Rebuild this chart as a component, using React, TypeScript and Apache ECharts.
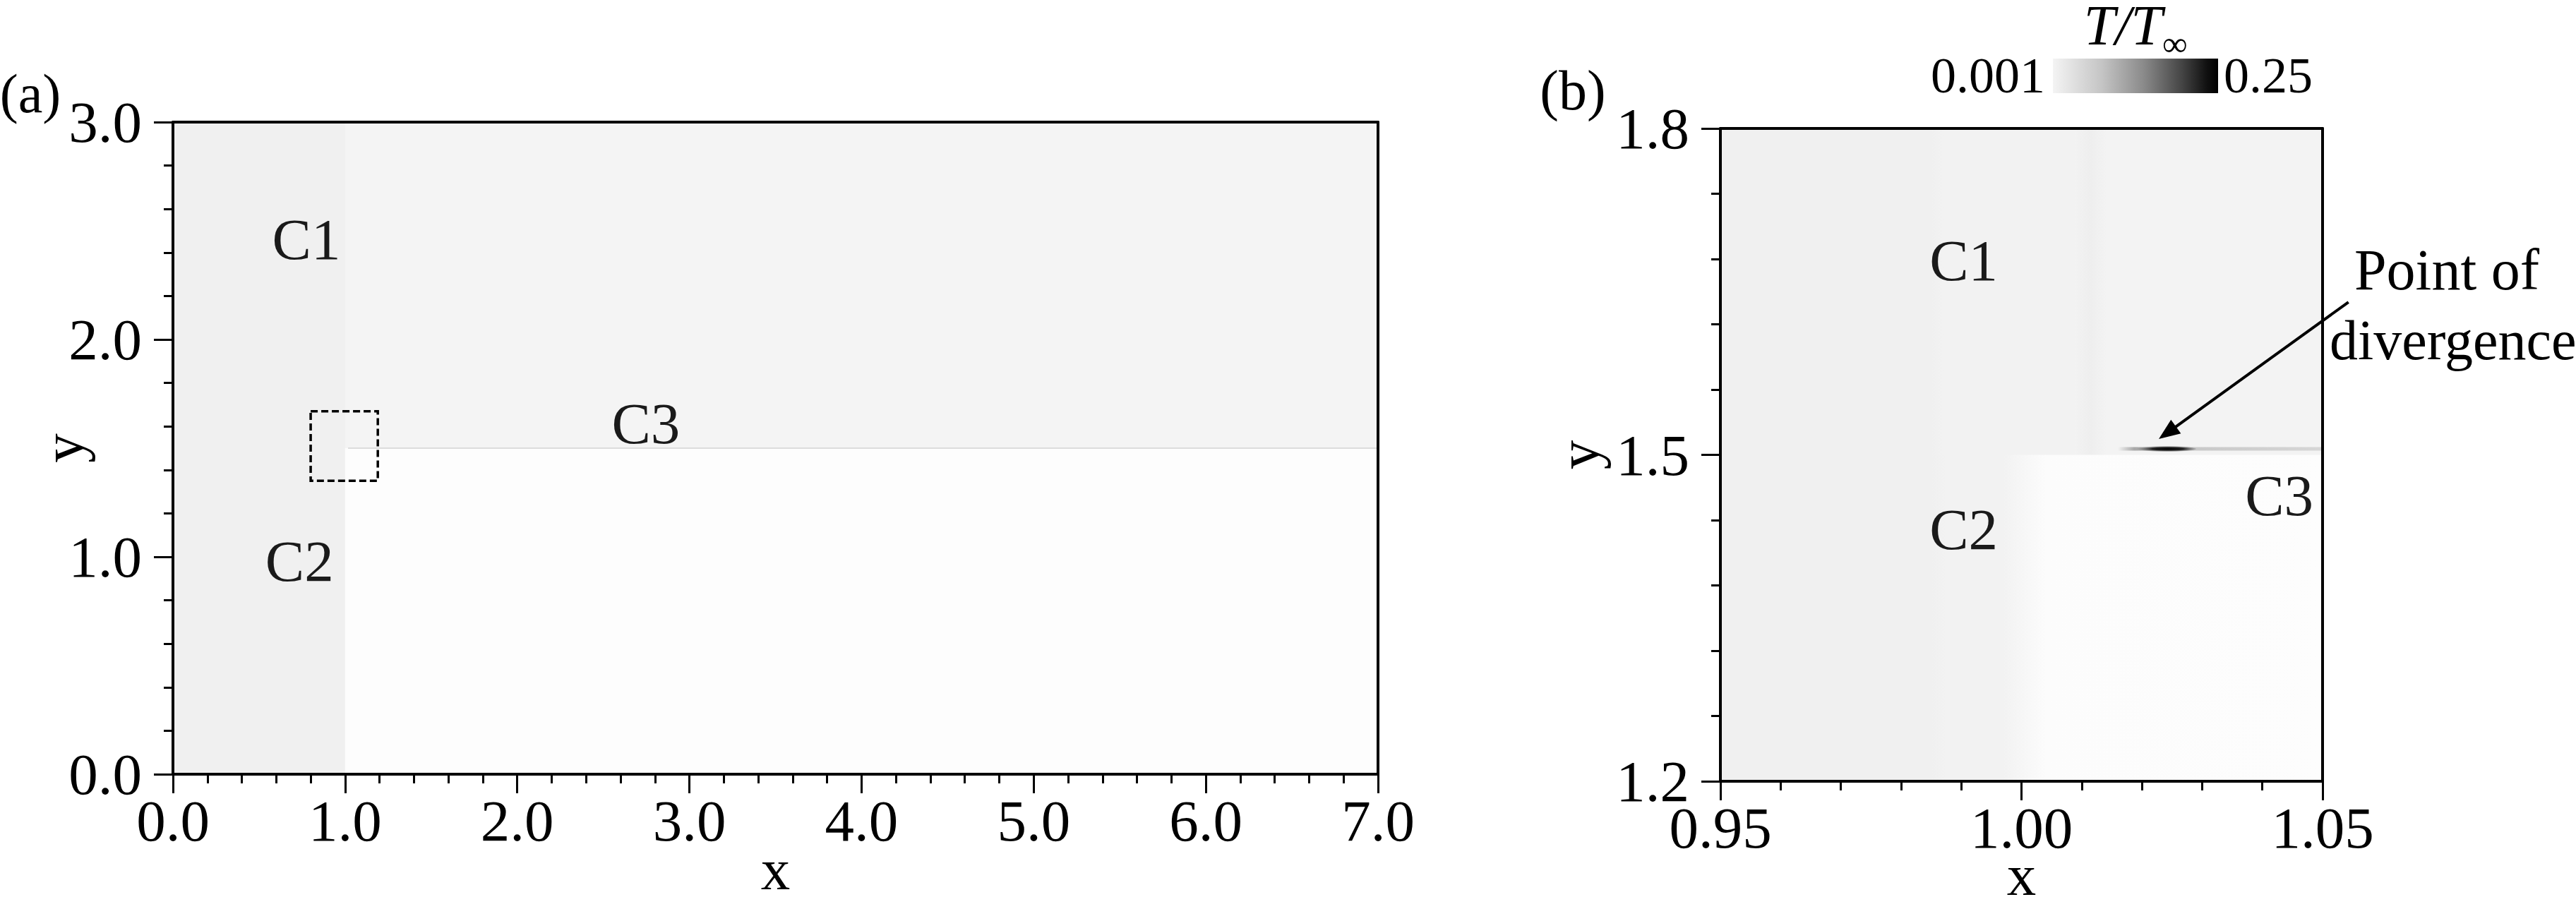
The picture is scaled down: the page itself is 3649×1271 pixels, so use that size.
import React, { useEffect, useRef } from "react";
import * as echarts from "echarts";

const FONT = "'Liberation Serif', serif";

// ---------- Panel (a) ----------
const xRangeA = [0, 7];
const yRangeA = [0, 3];
const xIntervalA = 1;
const yIntervalA = 1;
// regions: [x0, x1, y0, y1]
const regionsA = [
  [0, 1.0, 0, 3],
  [1.0, 7, 1.5, 3],
  [1.0, 7, 0, 1.5],
];
const regionColorsA = ["#f0f0f0", "#f4f4f4", "#fdfdfd"];
// interface line: [x0, x1, y]
const interfaceA = [[1.017, 7, 1.5]];
// dashed zoom window: [x0, x1, y0, y1]
const zoomBoxA = [[0.8, 1.19, 1.35, 1.67]];
const labelNamesA = ["C1", "C2", "C3"];
const labelXA = [0.775, 0.735, 2.747];
const labelYA = [2.46, 0.98, 1.614];

// ---------- Panel (b) ----------
const xRangeB = [0.95, 1.05];
const yRangeB = [1.2, 1.8];
const xIntervalB = 0.05;
const yIntervalB = 0.3;
// shaded bands: [x0, x1, y0, y1]
const bandsB = [
  [0.95, 0.985, 1.5, 1.8],
  [0.985, 0.987, 1.5, 1.8],
  [0.987, 1.009, 1.5, 1.8],
  [1.009, 1.0115, 1.5, 1.8],
  [1.0115, 1.014, 1.5, 1.8],
  [1.014, 1.05, 1.5, 1.8],
  [0.95, 0.985, 1.2, 1.5],
  [0.985, 0.9875, 1.2, 1.5],
  [0.9875, 0.997, 1.2, 1.5],
  [0.997, 1.004, 1.2, 1.5],
  [1.004, 1.05, 1.2, 1.5],
];
const bandColorsB = [
  ["#f0f0f0", "#f0f0f0"],
  ["#f0f0f0", "#f2f2f2"],
  ["#f2f2f2", "#f2f2f2"],
  ["#f2f2f2", "#eeeeee"],
  ["#eeeeee", "#f3f3f3"],
  ["#f3f3f3", "#f3f3f3"],
  ["#f0f0f0", "#f0f0f0"],
  ["#f0f0f0", "#f2f2f2"],
  ["#f2f2f2", "#f2f2f2"],
  ["#f2f2f2", "#fcfcfc"],
  ["#fcfcfc", "#fdfdfd"],
];
// streak along the interface: [x0, x1, y]
const streakB = [[1.016, 1.05, 1.5055]];
// divergence blob: [cx, cy, halfWidthX, halfHeightY]
const blobB = [[1.0238, 1.5055, 0.0052, 0.0028]];
// arrow: [xTail, yTail, xTip, yTip]
const arrowB = [[1.0543, 1.6404, 1.0228, 1.5146]];
const labelNamesB = ["C1", "C2", "C3"];
const labelXB = [0.9904, 0.9904, 1.0428];
const labelYB = [1.679, 1.4316, 1.4627];

// colour bar
const colorBarLabels = ["0.001", "0.25"];

function bottomX(gridIndex: number, min: number, max: number, interval: number, digits: number, nameGap: number) {
  return {
    type: "value",
    gridIndex,
    min,
    max,
    interval,
    position: "bottom",
    z: 10,
    name: "x",
    nameLocation: "middle",
    nameGap,
    nameMoveOverlap: false,
    nameTextStyle: { fontFamily: FONT, fontSize: 83, lineHeight: 56, color: "#000" },
    axisLine: { show: true, onZero: false, lineStyle: { color: "#000", width: 4 } },
    axisTick: { show: true, inside: false, length: 27, lineStyle: { color: "#000", width: 3 } },
    minorTick: { show: true, splitNumber: 5, length: 13, lineStyle: { color: "#000", width: 3 } },
    axisLabel: {
      show: true,
      margin: 24,
      showMinLabel: true,
      showMaxLabel: true,
      hideOverlap: false,
      fontFamily: FONT,
      fontSize: 83,
      color: "#000",
      formatter: (v: number) => v.toFixed(digits),
    },
    splitLine: { show: false },
    minorSplitLine: { show: false },
  };
}

function leftY(gridIndex: number, min: number, max: number, interval: number, digits: number, nameGap: number) {
  return {
    type: "value",
    gridIndex,
    min,
    max,
    interval,
    position: "left",
    z: 10,
    name: "y",
    nameLocation: "middle",
    nameGap,
    nameMoveOverlap: false,
    nameTextStyle: { fontFamily: FONT, fontSize: 83, color: "#000" },
    axisLine: { show: true, onZero: false, lineStyle: { color: "#000", width: 4 } },
    axisTick: { show: true, inside: false, length: 27, lineStyle: { color: "#000", width: 3 } },
    minorTick: { show: true, splitNumber: 5, length: 13, lineStyle: { color: "#000", width: 3 } },
    axisLabel: {
      show: true,
      margin: 44,
      showMinLabel: true,
      showMaxLabel: true,
      hideOverlap: false,
      fontFamily: FONT,
      fontSize: 83,
      color: "#000",
      formatter: (v: number) => v.toFixed(digits),
    },
    splitLine: { show: false },
    minorSplitLine: { show: false },
  };
}

function borderAxis(kind: "x" | "y", gridIndex: number, min: number, max: number) {
  return {
    type: "value",
    gridIndex,
    min,
    max,
    position: kind === "x" ? "top" : "right",
    z: 10,
    axisLine: { show: true, onZero: false, lineStyle: { color: "#000", width: 4 } },
    axisTick: { show: false },
    minorTick: { show: false },
    axisLabel: { show: false },
    splitLine: { show: false },
    minorSplitLine: { show: false },
  };
}

function rectSeries(xi: number, yi: number, data: number[][], fillFor: (i: number) => any) {
  return {
    type: "custom",
    xAxisIndex: xi,
    yAxisIndex: yi,
    silent: true,
    z: 1,
    data,
    renderItem: (params: any, api: any) => {
      const i = params.dataIndex;
      const p0 = api.coord([api.value(0), api.value(3)]);
      const p1 = api.coord([api.value(1), api.value(2)]);
      return {
        type: "rect",
        shape: { x: p0[0], y: p0[1], width: p1[0] - p0[0] + 0.6, height: p1[1] - p0[1] + 0.6 },
        style: { fill: fillFor(i) },
      };
    },
  };
}

function textSeries(xi: number, yi: number, names: string[], xs: number[], ys: number[]) {
  return {
    type: "custom",
    xAxisIndex: xi,
    yAxisIndex: yi,
    silent: true,
    z: 4,
    data: xs.map((x, i) => [x, ys[i]]),
    renderItem: (params: any, api: any) => {
      const p = api.coord([api.value(0), api.value(1)]);
      return {
        type: "text",
        style: {
          text: names[params.dataIndex],
          x: p[0],
          y: p[1],
          fill: "#1a1a1a",
          fontFamily: FONT,
          fontSize: 83,
          align: "center",
          verticalAlign: "middle",
        },
      };
    },
  };
}

export default function App() {
  const ref = useRef<HTMLDivElement>(null);

  useEffect(() => {
    if (!ref.current) return;
    const chart = echarts.init(ref.current, null, { renderer: "svg" });

    const option: any = {
      animation: false,
      backgroundColor: "#ffffff",
      textStyle: { fontFamily: FONT },
      grid: [
        { left: 245, top: 173, width: 1707, height: 924, show: false, containLabel: false, outerBoundsMode: "none" },
        { left: 2437, top: 182, width: 853, height: 925, show: false, containLabel: false, outerBoundsMode: "none" },
      ],
      xAxis: [
        bottomX(0, xRangeA[0], xRangeA[1], xIntervalA, 1, 107),
        borderAxis("x", 0, xRangeA[0], xRangeA[1]),
        bottomX(1, xRangeB[0], xRangeB[1], xIntervalB, 2, 105),
        borderAxis("x", 1, xRangeB[0], xRangeB[1]),
      ],
      yAxis: [
        leftY(0, yRangeA[0], yRangeA[1], yIntervalA, 1, 115),
        borderAxis("y", 0, yRangeA[0], yRangeA[1]),
        leftY(1, yRangeB[0], yRangeB[1], yIntervalB, 1, 160),
        borderAxis("y", 1, yRangeB[0], yRangeB[1]),
      ],
      series: [
        // panel (a) regions
        rectSeries(0, 0, regionsA, (i) => regionColorsA[i]),
        {
          type: "custom",
          xAxisIndex: 0,
          yAxisIndex: 0,
          silent: true,
          z: 2,
          data: interfaceA,
          renderItem: (params: any, api: any) => {
            const a = api.coord([api.value(0), api.value(2)]);
            const b = api.coord([api.value(1), api.value(2)]);
            return {
              type: "line",
              shape: { x1: a[0], y1: a[1], x2: b[0], y2: b[1] },
              style: { stroke: "#dcdcdc", lineWidth: 2 },
            };
          },
        },
        {
          type: "custom",
          xAxisIndex: 0,
          yAxisIndex: 0,
          silent: true,
          z: 3,
          data: zoomBoxA,
          renderItem: (params: any, api: any) => {
            const p0 = api.coord([api.value(0), api.value(3)]);
            const p1 = api.coord([api.value(1), api.value(2)]);
            return {
              type: "rect",
              shape: { x: p0[0], y: p0[1], width: p1[0] - p0[0], height: p1[1] - p0[1] },
              style: { fill: "none", stroke: "#000", lineWidth: 3.5, lineDash: [10, 5] },
            };
          },
        },
        textSeries(0, 0, labelNamesA, labelXA, labelYA),

        // panel (b) shading
        rectSeries(2, 2, bandsB, (i) =>
          new echarts.graphic.LinearGradient(0, 0, 1, 0, [
            { offset: 0, color: bandColorsB[i][0] },
            { offset: 1, color: bandColorsB[i][1] },
          ])
        ),
        {
          type: "custom",
          xAxisIndex: 2,
          yAxisIndex: 2,
          silent: true,
          z: 2,
          data: streakB,
          renderItem: (params: any, api: any) => {
            const a = api.coord([api.value(0), api.value(2)]);
            const b = api.coord([api.value(1), api.value(2)]);
            return {
              type: "rect",
              shape: { x: a[0], y: a[1] - 2.5, width: b[0] - a[0], height: 5 },
              style: {
                fill: new echarts.graphic.LinearGradient(0, 0, 1, 0, [
                  { offset: 0, color: "rgba(170,170,170,0)" },
                  { offset: 0.08, color: "#a8a8a8" },
                  { offset: 0.35, color: "#c8c8c8" },
                  { offset: 1, color: "#d6d6d6" },
                ]),
              },
            };
          },
        },
        {
          type: "custom",
          xAxisIndex: 2,
          yAxisIndex: 2,
          silent: true,
          z: 3,
          data: blobB,
          renderItem: (params: any, api: any) => {
            const c = api.coord([api.value(0), api.value(1)]);
            const e = api.coord([api.value(0) + api.value(2), api.value(1) + api.value(3)]);
            return {
              type: "ellipse",
              shape: { cx: c[0], cy: c[1], rx: Math.abs(e[0] - c[0]), ry: Math.abs(e[1] - c[1]) },
              style: {
                fill: new echarts.graphic.RadialGradient(0.55, 0.5, 0.5, [
                  { offset: 0, color: "rgba(0,0,0,1)" },
                  { offset: 0.5, color: "rgba(15,15,15,0.9)" },
                  { offset: 1, color: "rgba(90,90,90,0)" },
                ]),
              },
            };
          },
        },
        {
          type: "custom",
          xAxisIndex: 2,
          yAxisIndex: 2,
          silent: true,
          z: 5,
          clip: false,
          data: arrowB,
          renderItem: (params: any, api: any) => {
            const t = api.coord([api.value(0), api.value(1)]);
            const h = api.coord([api.value(2), api.value(3)]);
            const dx = h[0] - t[0];
            const dy = h[1] - t[1];
            const len = Math.hypot(dx, dy);
            const ux = dx / len;
            const uy = dy / len;
            const headLen = 30;
            const headHalf = 12;
            const bx = h[0] - ux * headLen;
            const by = h[1] - uy * headLen;
            return {
              type: "group",
              children: [
                {
                  type: "line",
                  shape: { x1: t[0], y1: t[1], x2: bx + ux * 4, y2: by + uy * 4 },
                  style: { stroke: "#000", lineWidth: 4 },
                },
                {
                  type: "polygon",
                  shape: {
                    points: [
                      [h[0], h[1]],
                      [bx - uy * headHalf, by + ux * headHalf],
                      [bx + uy * headHalf, by - ux * headHalf],
                    ],
                  },
                  style: { fill: "#000" },
                },
              ],
            };
          },
        },
        textSeries(2, 2, labelNamesB, labelXB, labelYB),
      ],
      graphic: [
        {
          type: "text",
          x: 43,
          y: 132,
          style: { text: "(a)", fontFamily: FONT, fontSize: 78, fill: "#000", align: "center", verticalAlign: "middle" },
        },
        {
          type: "text",
          x: 2228,
          y: 128,
          style: { text: "(b)", fontFamily: FONT, fontSize: 80, fill: "#000", align: "center", verticalAlign: "middle" },
        },
        {
          type: "rect",
          shape: { x: 2908, y: 83, width: 234, height: 49 },
          style: {
            fill: new echarts.graphic.LinearGradient(0, 0, 1, 0, [
              { offset: 0, color: "#f4f4f4" },
              { offset: 0.3, color: "#c4c4c4" },
              { offset: 0.55, color: "#8a8a8a" },
              { offset: 0.78, color: "#454545" },
              { offset: 0.93, color: "#111111" },
              { offset: 1, color: "#000000" },
            ]),
          },
        },
        {
          type: "text",
          x: 2897,
          y: 107,
          style: { text: colorBarLabels[0], fontFamily: FONT, fontSize: 72, fill: "#000", align: "right", verticalAlign: "middle" },
        },
        {
          type: "text",
          x: 3150,
          y: 107,
          style: { text: colorBarLabels[1], fontFamily: FONT, fontSize: 72, fill: "#000", align: "left", verticalAlign: "middle" },
        },
        {
          type: "text",
          x: 3063,
          y: 36,
          style: { text: "T/T", fontFamily: FONT, fontStyle: "italic", fontSize: 80, lineHeight: 56, fill: "#000", align: "right", verticalAlign: "middle" },
        },
        {
          type: "text",
          x: 3063,
          y: 62,
          style: { text: "∞", fontFamily: FONT, fontSize: 50, lineHeight: 36, fill: "#000", align: "left", verticalAlign: "middle" },
        },
        {
          type: "text",
          x: 3335,
          y: 382,
          style: { text: "Point of", fontFamily: FONT, fontSize: 82, fill: "#000", align: "left", verticalAlign: "middle" },
        },
        {
          type: "text",
          x: 3300,
          y: 482,
          style: { text: "divergence", fontFamily: FONT, fontSize: 80, fill: "#000", align: "left", verticalAlign: "middle" },
        },
      ],
    };

    chart.setOption(option);
    return () => chart.dispose();
  }, []);

  return (
    <div
      ref={ref}
      style={{ position: "absolute", left: 0, top: 0, width: 3649, height: 1271, background: "#fff" }}
    />
  );
}
